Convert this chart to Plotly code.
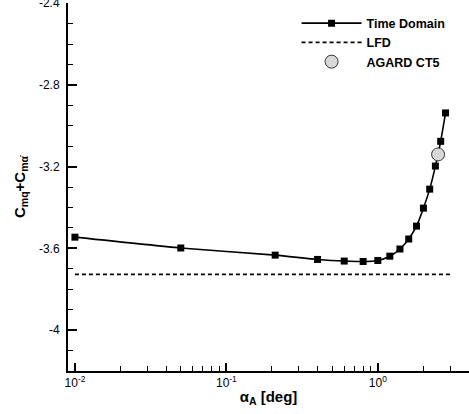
import numpy as np
import plotly.graph_objects as go

# Time-domain simulation: pitch damping vs. amplitude
alpha_td = [0.01, 0.05, 0.21, 0.4, 0.6, 0.8, 1.0, 1.2, 1.4, 1.6, 1.8, 2.0, 2.2, 2.4, 2.6, 2.8]
cm_td = [-3.545, -3.598, -3.633, -3.654, -3.662, -3.664, -3.659, -3.638, -3.603,
         -3.554, -3.491, -3.403, -3.310, -3.197, -3.076, -2.937]

# Linear frequency-domain result (constant)
alpha_lfd = [0.01, 3.0]
cm_lfd = [-3.727, -3.727]

# AGARD CT5 experiment
alpha_exp = [2.5]
cm_exp = [-3.14]

x_major = [0.01, 0.1, 1]
x_major_text = ["10<sup>-2</sup>", "10<sup>-1</sup>", "10<sup>0</sup>"]
x_minor = [0.02, 0.03, 0.04, 0.05, 0.06, 0.07, 0.08, 0.09,
           0.2, 0.3, 0.4, 0.5, 0.6, 0.7, 0.8, 0.9, 2, 3, 4]
y_major = [-4.0, -3.6, -3.2, -2.8, -2.4]
y_major_text = ["-4", "-3.6", "-3.2", "-2.8", "-2.4"]

font = "Liberation Sans, Arial, sans-serif"

fig = go.Figure()
fig.add_trace(go.Scatter(
    x=alpha_td, y=cm_td, name="Time Domain", mode="lines+markers",
    line=dict(color="black", width=1.6, shape="spline", smoothing=0.6),
    marker=dict(symbol="square", size=7, color="black"),
))
fig.add_trace(go.Scatter(
    x=alpha_lfd, y=cm_lfd, name="LFD", mode="lines",
    line=dict(color="black", width=1.6, dash="4px,3px"),
))
fig.add_trace(go.Scatter(
    x=alpha_exp, y=cm_exp, name="AGARD CT5", mode="markers",
    marker=dict(symbol="circle", size=13, color="#d8d8d8",
                line=dict(color="#333333", width=1)),
))

fig.update_layout(
    width=469, height=414,
    margin=dict(l=68, r=0, t=3, b=43, autoexpand=False),
    paper_bgcolor="white", plot_bgcolor="white",
    font=dict(family=font, size=12, color="black"),
    showlegend=True,
    legend=dict(x=0.57, y=0.985, xanchor="left", yanchor="top",
                bgcolor="rgba(0,0,0,0)", itemwidth=60,
                font=dict(family=font, size=12.5, color="black", weight="bold"),
                tracegroupgap=0),
    xaxis=dict(
        type="log", range=[np.log10(0.009), np.log10(4)], automargin=False,
        showline=True, linecolor="black", linewidth=2, mirror=False,
        showgrid=False, zeroline=False,
        tickmode="array", tickvals=x_major, ticktext=x_major_text,
        ticks="inside", ticklen=8, tickwidth=2, tickcolor="black",
        minor=dict(tickmode="array", tickvals=x_minor, ticks="inside",
                   ticklen=5, tickwidth=1, tickcolor="black", showgrid=False),
        tickfont=dict(size=12),
        title=dict(text="α<sub>A</sub> [deg]", standoff=2,
                   font=dict(size=15, weight="bold")),
    ),
    yaxis=dict(
        range=[-4.2, -2.399], automargin=False,
        showline=True, linecolor="black", linewidth=2, mirror=False,
        showgrid=False, zeroline=False,
        tickmode="array", tickvals=y_major, ticktext=y_major_text,
        ticks="inside", ticklen=9, tickwidth=2, tickcolor="black",
        ticklabelstandoff=4, ticklabeloverflow="allow",
        minor=dict(dtick=0.1, ticks="inside", ticklen=5, tickwidth=1,
                   tickcolor="black", showgrid=False),
        tickfont=dict(size=12),
        title=dict(text="C<sub>mq</sub>+C<sub>mα̇</sub>", standoff=10,
                   font=dict(size=15, weight="bold")),
    ),
)

fig.write_html("out.html")
